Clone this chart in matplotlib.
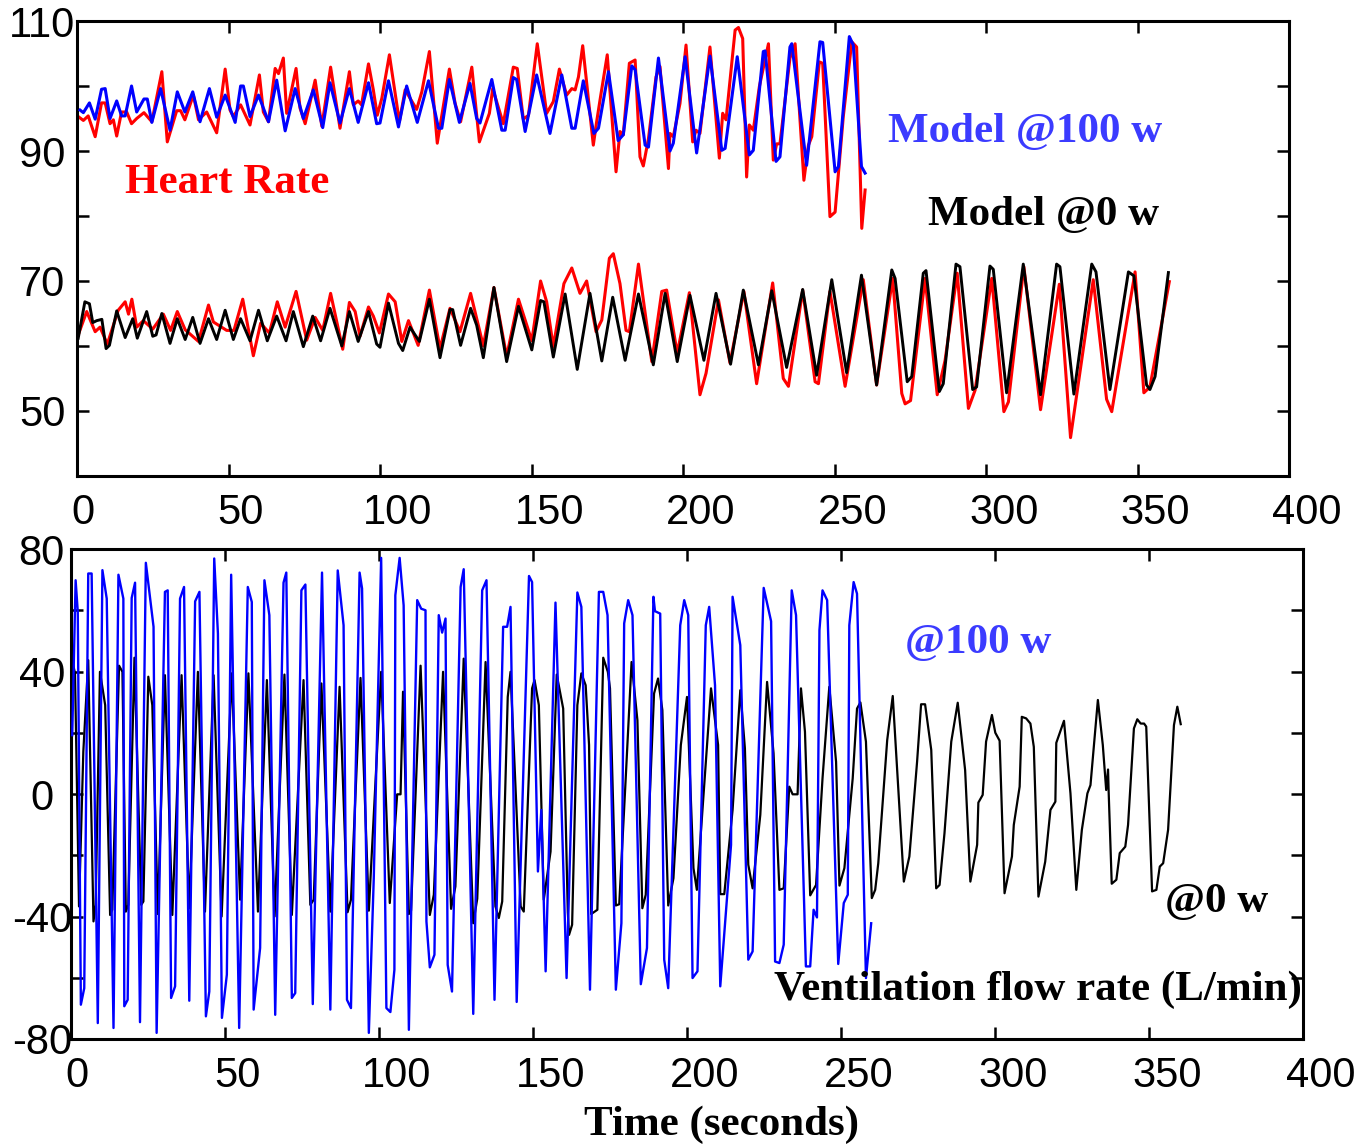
import matplotlib.pyplot as plt
from matplotlib.transforms import ScaledTranslation

# ---- top panel: heart rate vs model at 100 w (upper traces) ----
hr100_t = [0.4, 2.1, 3.7, 6.0, 8.1, 9.3, 10.9, 12.0, 13.1, 14.7, 16.4, 18.0, 19.7, 22.1, 24.7, 28.0,
           29.8, 31.3, 32.9, 34.2, 35.6, 38.4, 40.1, 42.8, 46.1, 48.9, 50.5, 51.6, 54.0, 57.1, 60.2,
           61.5, 63.2, 65.4, 66.5, 68.1, 69.2, 72.3, 73.6, 75.3, 78.6, 80.8, 83.7, 86.8, 89.9, 91.2,
           92.8, 93.9, 96.2, 97.8, 99.1, 100.6, 103.1, 106.4, 108.3, 112.1, 113.8, 116.3, 118.9,
           122.9, 124.8, 126.6, 130.3, 132.8, 136.1, 137.2, 140.7, 144.0, 145.3, 147.3, 149.0,
           151.9, 155.0, 157.2, 159.2, 161.6, 163.3, 164.4, 165.5, 166.9, 170.4, 171.5, 172.6,
           175.0, 177.9, 179.2, 180.3, 182.3, 184.2, 185.8, 186.9, 188.6, 191.1, 192.4, 195.2,
           195.7, 196.8, 199.0, 201.0, 203.2, 204.3, 205.6, 208.9, 212.0, 213.1, 214.2, 217.2,
           218.3, 219.7, 221.0, 221.9, 223.2, 225.2, 228.2, 229.8, 230.9, 232.0, 235.3, 237.0,
           239.9, 241.4, 242.5, 245.0, 246.1, 248.5, 250.2, 252.9, 255.7, 257.3, 259.0, 260.1]
hr100_v = [95.3, 94.7, 95.4, 92.2, 97.4, 97.4, 94.2, 94.8, 92.3, 96.0, 96.0, 94.2, 95.0, 95.9, 94.5, 102.2,
           91.4, 93.7, 96.2, 96.2, 94.8, 98.6, 94.8, 96.0, 92.8, 102.6, 96.3, 95.3, 97.1, 94.0, 101.7,
           96.0, 94.5, 102.7, 101.9, 104.3, 95.8, 102.7, 96.6, 94.2, 100.9, 93.8, 102.9, 93.5, 102.2, 97.1,
           97.7, 97.1, 103.4, 99.4, 95.5, 98.1, 104.8, 94.5, 99.4, 96.4, 99.1, 105.3, 91.2,
           102.6, 97.3, 94.5, 102.9, 91.4, 95.8, 99.6, 94.2, 102.9, 102.7, 94.9, 95.5,
           106.5, 95.8, 97.6, 102.6, 98.6, 99.6, 99.4, 101.4, 106.2, 90.9, 94.5, 97.8,
           104.8, 86.8, 93.0, 92.5, 103.5, 104.0, 89.1, 87.7, 91.9, 101.4, 103.0, 87.3,
           92.7, 92.2, 97.3, 106.3, 91.4, 93.2, 92.7, 106.0, 88.9, 95.8, 94.8, 108.6,
           109.0, 107.3, 86.0, 94.0, 93.2, 99.9, 106.5, 88.6, 91.1, 91.1, 104.3, 106.5,
           85.5, 90.9, 92.2, 103.7, 103.5, 79.9, 80.6, 95.3, 106.8, 106.0, 78.1, 84.0]

model100_t = [1.0, 2.1, 4.1, 6.0, 8.1, 9.3, 10.9, 13.1, 14.7, 15.9, 18.0, 19.7, 22.1, 23.2, 24.7, 27.6,
              30.7, 33.1, 35.6, 38.2, 40.6, 43.7, 46.1, 48.9, 52.2, 54.0, 54.9, 57.1, 59.9, 63.2, 65.9,
              68.7, 72.0, 74.7, 78.0, 81.1, 83.5, 86.8, 89.9, 92.8, 96.2, 98.9, 100.0, 102.8, 106.1,
              108.8, 112.3, 116.0, 119.3, 120.4, 122.9, 126.2, 129.7, 131.9, 133.0, 136.9, 140.2,
              141.3, 144.0, 145.1, 147.9, 151.7, 156.1, 160.0, 163.3, 164.4, 167.1, 170.6, 172.1,
              175.4, 178.6, 180.3, 183.1, 184.2, 187.5, 188.6, 191.9, 195.7, 196.8, 200.7, 204.5,
              208.9, 212.8, 213.9, 217.9, 221.9, 223.2, 226.5, 227.1, 230.7, 232.0, 235.3, 235.9,
              240.8, 245.2, 246.1, 250.2, 251.3, 254.9, 256.2, 258.9, 260.1]
model100_v = [96.3, 95.9, 97.4, 94.9, 99.5, 99.6, 95.0, 97.7, 95.4, 95.4, 100.0, 96.0, 98.0, 98.0, 94.4, 99.6,
              93.2, 99.1, 96.0, 99.1, 94.5, 99.6, 95.2, 98.6, 94.4, 100.0, 100.0, 95.3, 98.6, 94.5, 100.9,
              93.1, 99.6, 95.0, 99.4, 93.6, 100.5, 94.3, 99.6, 94.4, 100.5, 94.2, 94.3, 100.8, 93.7,
              100.0, 94.4, 100.8, 93.5, 93.5, 101.0, 94.4, 100.4, 95.0, 94.3, 101.0, 93.2,
              93.2, 101.3, 101.0, 93.0, 101.7, 92.7, 101.7, 93.5, 93.5, 100.8, 92.7, 93.5,
              102.2, 91.6, 92.5, 103.1, 102.5, 90.9, 90.6, 104.3, 90.0, 91.2, 104.5, 89.7,
              104.6, 90.1, 90.4, 104.5, 89.4, 90.1, 105.3, 105.4, 88.4, 89.1, 106.0, 106.5,
              87.8, 106.8, 106.7, 86.8, 87.6, 107.6, 106.3, 87.6, 86.6]

# ---- top panel: heart rate vs model at 0 w (lower traces) ----
hr0_t = [0.4, 3.2, 6.0, 7.6, 10.0, 13.6, 15.9, 17.0, 18.1, 19.7, 21.9, 25.0, 28.5, 30.9, 33.1, 35.7,
         40.1, 43.4, 45.0, 49.4, 51.8, 54.7, 58.2, 60.6, 63.5, 66.1, 68.7, 72.3, 75.8, 78.6, 81.1,
         83.7, 87.7, 89.9, 91.8, 93.4, 96.2, 97.8, 99.8, 102.8, 105.0, 107.2, 109.4, 112.6, 116.3,
         119.8, 123.1, 126.4, 129.9, 134.1, 137.6, 141.8, 145.7, 150.1, 153.0, 155.0, 157.2,
         160.7, 163.3, 166.0, 168.2, 171.3, 173.2, 175.7, 177.0, 179.2, 181.2, 182.3, 185.3,
         189.7, 193.0, 194.6, 198.1, 202.1, 205.6, 207.6, 211.7, 215.5, 220.1, 224.3, 229.6,
         233.1, 234.8, 239.5, 243.6, 244.7, 248.5, 253.5, 259.5, 263.9, 269.2, 272.2, 273.3,
         275.1, 279.9, 283.9, 286.5, 290.5, 294.2, 296.4, 301.9, 305.9, 307.4, 312.5, 318.0,
         324.2, 327.9, 335.4, 339.8, 341.5, 349.2, 352.1, 354.1, 360.5]
hr0_v = [61.7, 65.3, 62.2, 62.9, 60.3, 65.5, 66.8, 64.9, 67.2, 62.9, 63.9, 62.6, 64.9, 62.4, 65.3, 62.5,
         60.7, 66.3, 63.7, 62.4, 62.4, 67.2, 58.5, 63.5, 62.0, 66.8, 62.9, 68.4, 60.9, 64.4, 62.4,
         68.1, 59.5, 66.7, 65.3, 61.5, 66.0, 64.6, 62.0, 68.0, 66.8, 60.7, 63.9, 60.1, 68.6,
         59.6, 65.8, 62.2, 68.1, 60.0, 69.0, 58.4, 67.2, 60.8, 70.0, 66.8, 59.9,
         69.6, 72.0, 68.1, 70.0, 62.2, 64.0, 73.5, 74.2, 69.6, 62.4, 62.2, 72.6,
         57.6, 68.4, 68.6, 58.9, 68.2, 52.5, 55.8, 67.1, 57.4, 68.4, 54.2, 69.7,
         55.0, 53.8, 68.6, 54.5, 54.2, 68.4, 53.8, 70.2, 54.0, 70.4, 52.7, 51.1,
         51.6, 70.4, 52.5, 57.8, 71.2, 50.4, 53.2, 70.4, 49.9, 51.4, 72.2, 50.2,
         69.5, 45.9, 70.2, 51.8, 49.9, 71.4, 52.8, 53.7, 69.9]

model0_t = [0.4, 2.6, 4.1, 5.2, 6.5, 8.2, 9.6, 10.7, 13.1, 15.9, 18.4, 19.9, 23.0, 25.0, 26.1, 28.0,
            30.7, 33.1, 35.7, 38.2, 40.6, 43.4, 46.1, 48.9, 51.6, 54.0, 57.1, 59.9, 62.8, 65.9, 69.0,
            71.4, 74.7, 77.8, 80.4, 83.5, 87.4, 89.9, 92.8, 96.2, 98.9, 100.0, 102.8, 106.1, 107.5,
            109.9, 113.0, 116.3, 119.8, 123.1, 124.0, 126.6, 129.9, 131.9, 134.1, 137.6, 141.8,
            145.7, 150.1, 153.0, 154.1, 157.2, 161.1, 165.1, 169.3, 173.2, 176.8, 180.9, 185.3,
            190.2, 194.1, 198.1, 202.3, 206.9, 210.9, 215.7, 219.9, 224.9, 229.3, 234.2, 239.5,
            244.1, 249.1, 254.0, 258.9, 263.9, 268.9, 270.0, 274.0, 275.5, 279.3, 280.2, 284.6,
            285.9, 290.1, 291.4, 295.6, 296.9, 301.3, 302.4, 306.8, 312.3, 318.0, 323.3, 324.4,
            329.0, 334.9, 336.3, 340.9, 347.0, 348.8, 353.0, 354.1, 355.8, 360.2]
model0_v = [61.2, 66.8, 66.5, 63.6, 63.9, 64.1, 59.6, 60.1, 65.4, 61.3, 64.2, 61.2, 65.3, 61.5, 61.7, 65.0,
            60.4, 64.2, 61.0, 64.4, 60.4, 64.2, 61.0, 65.5, 61.0, 64.2, 60.8, 65.5, 60.8, 64.6, 60.8,
            65.3, 59.9, 64.6, 60.8, 65.8, 60.0, 65.3, 60.7, 65.3, 60.3, 59.8, 66.6, 60.4, 59.3,
            62.9, 60.7, 67.2, 58.2, 65.6, 65.6, 60.1, 65.8, 63.2, 58.2, 69.0, 57.6,
            66.1, 59.4, 67.0, 66.8, 58.3, 68.0, 56.4, 68.1, 57.7, 67.5, 57.8, 68.0,
            57.1, 68.1, 57.6, 67.8, 57.8, 68.1, 57.2, 68.6, 57.1, 68.5, 56.7, 68.7,
            55.5, 70.2, 55.9, 70.9, 54.0, 71.7, 70.4, 54.5, 55.3, 71.2, 71.6, 53.0,
            54.2, 72.6, 72.2, 53.3, 53.7, 72.3, 71.8, 52.8, 72.6, 52.5, 72.6, 72.2,
            52.6, 72.6, 71.4, 53.3, 71.4, 70.8, 54.0, 53.3, 55.3, 71.3]

# ---- bottom panel: ventilation flow rate ----
vent100_t = [0.4, 1.5, 2.2, 3.2, 4.3, 5.6, 6.7, 8.7, 10.2, 11.6, 13.8, 15.4, 17.0, 17.3, 18.4, 19.7,
             20.8, 22.4, 24.3, 26.8, 27.8, 30.5, 31.4, 32.5, 33.8, 35.4, 36.7, 38.4, 40.3, 41.7, 43.8,
             44.9, 46.5, 47.7, 49.0, 50.6, 52.0, 54.6, 57.4, 58.7, 59.3, 61.4, 62.8, 64.4, 66.3, 69.0,
             69.9, 71.7, 72.8, 74.8, 76.1, 78.5, 81.5, 84.2, 86.6, 88.5, 89.6, 90.9, 93.7, 94.5, 96.7,
             98.3, 100.7, 102.4, 103.7, 105.0, 105.3, 106.7, 108.0, 109.7, 112.4, 113.7, 115.1,
             115.4, 116.5, 118.0, 119.4, 120.5, 121.6, 122.3, 123.7, 126.5, 127.5, 130.6, 133.5,
             134.9, 137.5, 140.3, 141.6, 142.7, 144.7, 148.7, 149.7, 151.6, 152.7, 154.1, 157.3,
             160.9, 164.4, 165.7, 168.5, 171.4, 172.8, 174.2, 176.9, 178.7, 179.6, 180.9, 182.3,
             185.0, 187.0, 189.1, 189.6, 191.3, 192.6, 193.9, 197.8, 199.1, 200.4, 201.8, 203.4,
             206.1, 207.2, 209.1, 210.8, 214.3, 214.8, 217.3, 219.9, 221.3, 224.9, 227.3, 228.6,
             230.0, 231.4, 234.0, 235.4, 238.6, 240.0, 241.1, 242.2, 243.0, 244.0, 245.5, 249.1,
             250.9, 252.2, 252.7, 254.1, 255.2, 258.1, 259.8]
vent100_v = [19.2, 69.8, 59.5, -68.8, -63.4, 72.0, 72.0, -74.8, 73.1, 63.8, -76.4, 71.6, 63.8, -69.3, -67.2, 64.0,
             69.0, -74.5, 75.5, 54.6, -78.0, 66.0, 66.5, -66.6, -62.8, 63.8, 67.6, -67.5, 62.9, 66.0, -72.6,
             -64.5, 76.9, 52.4, -73.1, -59.0, 71.6, -76.4, 67.6, 62.7, -70.4, -50.3, 69.8, 58.4, -72.1, 69.0,
             72.3, -66.6, -65.0, 66.5, 68.4, -68.6, 72.3, -70.4, 73.0, 55.1, -67.2, -69.9, 72.3, 67.1, -78.0,
             -27.5, 77.1, -69.9, -71.2, -57.4, 64.9, 77.1, 61.6, -77.0, 63.3, 60.5, 60.0,
             -41.6, -56.6, -52.5, 58.4, 52.7, 57.3, -55.8, -64.5, 67.6, 73.4, -71.8, 66.5,
             69.8, -67.2, 54.6, 54.6, 61.1, -67.9, 71.2, 69.2, -25.3, -5.2, -57.9, 62.5,
             -60.1, 65.8, 61.1, -63.9, 66.0, 66.0, 58.4, -63.9, -42.2, 55.7, 63.3, 58.4,
             -62.1, -50.3, 64.4, 59.7, 58.9, -54.1, -63.4, 55.1, 63.3, 58.4, -60.1, -57.9,
             55.1, 61.1, 35.5, -62.8, -16.6, 64.4, 48.6, -54.1, -51.4, 67.3, 56.4, -54.7,
             -55.2, -49.2, 66.5, 58.4, -56.3, -56.3, -37.8, -40.3, 53.5, 66.5, 63.3, -55.5,
             -35.6, -32.9, 55.1, 69.2, 65.4, -60.1, -42.2]

vent0_t = [0.4, 1.3, 2.6, 4.0, 5.6, 7.3, 8.0, 9.4, 11.1, 12.7, 13.4, 15.6, 16.7, 17.8, 18.6, 20.6,
           22.8, 23.5, 25.1, 26.4, 28.2, 30.5, 32.9, 35.9, 38.4, 41.2, 43.5, 46.3, 48.9, 52.2, 54.9,
           57.6, 60.7, 63.6, 66.1, 69.3, 71.7, 75.5, 77.7, 78.8, 81.3, 84.2, 87.2, 89.8, 90.9, 94.0,
           96.7, 100.7, 103.5, 105.9, 107.0, 107.8, 109.7, 110.4, 113.5, 116.5, 117.8, 120.8, 123.4,
           124.8, 127.5, 130.6, 131.9, 134.6, 137.8, 138.9, 140.0, 141.8, 142.7, 146.0, 147.0,
           149.7, 150.5, 151.9, 153.5, 155.7, 157.7, 159.8, 161.3, 161.7, 162.7, 164.4, 165.7,
           167.1, 168.2, 168.9, 170.9, 172.8, 174.3, 175.0, 176.9, 178.0, 180.1, 182.0, 183.9,
           185.5, 186.6, 189.3, 190.6, 192.0, 193.9, 195.6, 198.0, 200.0, 202.1, 203.2, 207.8,
           210.1, 210.8, 212.1, 214.8, 217.3, 218.8, 219.9, 221.3, 223.8, 226.0, 228.1, 230.0,
           231.4, 233.2, 234.3, 235.9, 237.0, 238.3, 240.0, 241.9, 244.0, 246.2, 248.4, 249.5,
           251.1, 253.8, 255.2, 256.3, 258.1, 260.0, 261.1, 262.1, 265.0, 266.8, 270.4, 272.2,
           273.6, 274.7, 276.0, 277.3, 279.3, 280.9, 282.0, 283.6, 285.8, 287.9, 290.3, 292.0,
           294.2, 294.6, 296.0, 297.1, 299.0, 300.1, 301.5, 303.1, 305.5, 306.1, 308.0, 308.7,
           310.1, 311.5, 312.6, 314.1, 316.3, 318.0, 319.6, 319.9, 322.4, 324.5, 326.4, 328.2,
           330.0, 331.0, 333.4, 335.0, 336.1, 336.7, 336.9, 337.9, 339.4, 340.5, 342.3, 343.2,
           345.1, 346.2, 347.3, 348.4, 349.1, 351.0, 352.4, 353.5, 354.6, 356.2, 358.1, 359.2, 360.3]
vent0_v = [43.7, 39.4, -36.7, 13.8, 43.7, -41.6, -36.2, 39.9, 29.0, -39.5, -37.8, 41.9, 39.9, -38.4, -36.2, 44.5,
           -36.2, -35.1, 38.3, 29.0, -39.2, 38.8, -39.5, 38.8, -37.3, 39.9, -38.4, 38.8, -40.0, 39.4, -34.5,
           39.4, -38.4, 37.2, -40.0, 39.0, -39.5, 37.2, -36.2, -34.5, 36.1, -38.4, 35.0, -38.6, -34.5, 37.9,
           -38.1, 39.9, -35.6, -0.1, -0.1, 33.4, -39.2, -38.1, 41.9, -39.5, -32.9, 39.9, -37.5,
           -30.2, 44.2, -42.2, -34.2, 43.1, -36.7, -40.5, -35.1, 31.7, 39.9, -36.7, -38.4,
           34.5, 37.2, 29.0, -34.5, -18.8, 39.0, 27.9, -38.6, -46.0, -42.7, 29.0, 39.4,
           35.5, 16.0, -39.2, -37.8, 44.5, 39.9, 34.5, -36.4, -36.0, 5.1, 43.1, 24.1,
           -37.3, -32.9, 32.8, 37.7, 27.4, -36.4, -27.5, 16.0, 31.7, -24.2, -31.3, 34.5,
           16.0, -32.7, -32.7, -5.2, 33.9, 14.9, -23.1, -30.8, -6.8, 36.6, 13.3, -31.3,
           -30.8, 2.4, -0.1, -0.1, 34.5, 20.3, -33.1, -29.7, 5.1, 35.0, 10.5, -29.9,
           -24.2, 5.1, 27.9, 29.9, 17.1, -34.0, -31.3, -22.6, 17.6, 32.0, -28.6, -20.4,
           -3.0, 10.5, 29.3, 29.3, 14.4, -30.8, -29.7, -12.8, 17.1, 29.8, 7.8, -28.6,
           -16.6, -2.8, -0.3, 17.1, 25.8, 20.0, 17.4, -32.4, -20.4, -10.1, 2.4, 25.2,
           24.7, 23.0, 15.4, -33.5, -22.1, -5.2, -2.5, 16.7, 23.9, 0.2, -31.3, -11.7,
           0.2, 2.9, 30.7, 16.0, 1.3, 8.0, 0.8, -29.3, -28.0, -19.3, -17.2, -10.1,
           21.4, 24.4, 23.0, 23.0, 22.0, -31.8, -31.3, -23.7, -22.6, -11.7, 22.5, 28.5, 22.8]

xticks = [0, 50, 100, 150, 200, 250, 300, 350, 400]
top_yticks = [50, 60, 70, 80, 90, 100, 110]
top_ylabels = ['50', '', '70', '', '90', '', '110']
bot_yticks = [-80, -60, -40, -20, 0, 20, 40, 60, 80]
bot_ylabels = ['-80', '', '-40', '', '0', '', '40', '', '80']

RED = '#ff0000'
BLUE = '#0000ff'
TXT_BLUE = '#3b3bff'
serif = ['Liberation Serif', 'DejaVu Serif']
plt.rcParams['font.family'] = ['Liberation Sans', 'DejaVu Sans']

fig = plt.figure(figsize=(13.7, 11.45), dpi=100)
ax1 = fig.add_axes([77 / 1370, 1 - 476 / 1145, 1212 / 1370, 455 / 1145])
ax2 = fig.add_axes([71 / 1370, 1 - 1039 / 1145, 1232 / 1370, 490 / 1145])

ax1.plot(hr100_t, hr100_v, color=RED, lw=2.2, zorder=2)
ax1.plot(model100_t, model100_v, color=BLUE, lw=2.2, zorder=3)
ax1.plot(hr0_t, hr0_v, color=RED, lw=2.2, zorder=2)
ax1.plot(model0_t, model0_v, color='black', lw=2.1, zorder=3)

ax2.plot(vent0_t, vent0_v, color='black', lw=1.6, zorder=2)
ax2.plot(vent100_t, vent100_v, color=BLUE, lw=1.7, zorder=3)

ax1.set_xlim(0, 400)
ax1.set_ylim(40, 110)
ax2.set_xlim(0, 400)
ax2.set_ylim(-80, 80)

for ax, yt, yl, ypad in [(ax1, top_yticks, top_ylabels, 25), (ax2, bot_yticks, bot_ylabels, 21)]:
    ax.set_xticks(xticks)
    ax.set_xticklabels([str(v) for v in xticks])
    ax.set_yticks(yt)
    ax.set_yticklabels(yl)
    ax.tick_params(direction='in', length=8.5, width=1.8, top=True, right=True,
                   labelsize=30, colors='black')
    ax.tick_params(axis='x', pad=12)
    ax.tick_params(axis='y', pad=ypad)
    for s in ax.spines.values():
        s.set_linewidth(2.2)
    for lbl in ax.get_yticklabels():
        lbl.set_horizontalalignment('center')
    # tick labels in the original sit a little right of their ticks
    for lbl in ax.get_xticklabels():
        dx = 6 * len(lbl.get_text()) / 100
        lbl.set_transform(lbl.get_transform() + ScaledTranslation(dx, 0, fig.dpi_scale_trans))

ax1.text(0.0396, 0.644, 'Heart Rate', transform=ax1.transAxes, color=RED,
         fontsize=31, fontweight='bold', family=serif, ha='left', va='center')
ax1.text(0.669, 0.756, 'Model @100 w', transform=ax1.transAxes, color=TXT_BLUE,
         fontsize=31, fontweight='bold', family=serif, ha='left', va='center')
ax1.text(0.702, 0.574, 'Model @0 w', transform=ax1.transAxes, color='black',
         fontsize=31, fontweight='bold', family=serif, ha='left', va='center')

ax2.text(0.677, 0.808, '@100 w', transform=ax2.transAxes, color=TXT_BLUE,
         fontsize=31, fontweight='bold', family=serif, ha='left', va='center')
ax2.text(0.888, 0.280, '@0 w', transform=ax2.transAxes, color='black',
         fontsize=31, fontweight='bold', family=serif, ha='left', va='center')
ax2.text(0.571, 0.100, 'Ventilation flow rate (L/min)', transform=ax2.transAxes, color='black',
         fontsize=31, fontweight='bold', family=serif, ha='left', va='center', zorder=5)

ax2.set_xlabel('Time (seconds)', fontsize=31, fontweight='bold', family=serif)
ax2.xaxis.set_label_coords(0.528, -0.176)
ax2.xaxis.label.set_verticalalignment('center')

fig.savefig('out.png', dpi=100)
